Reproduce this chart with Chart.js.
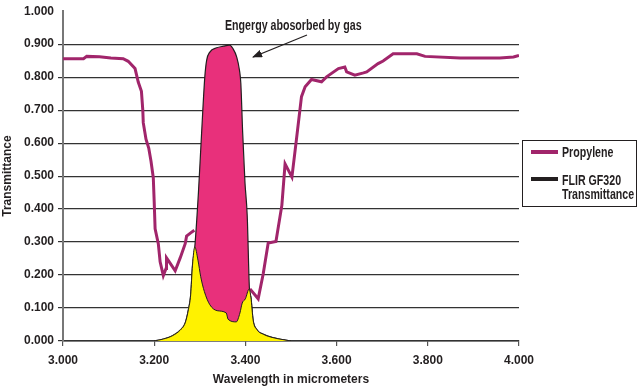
<!DOCTYPE html>
<html><head><meta charset="utf-8">
<script src="https://cdn.jsdelivr.net/npm/chart.js@4.4.1/dist/chart.umd.min.js"></script>
<style>
html,body{margin:0;padding:0;background:#fff;}
#wrap{position:relative;width:640px;height:389px;overflow:hidden;}
#c{position:absolute;left:0;top:0;}
.lbl{position:absolute;font-family:'Liberation Sans',Arial,sans-serif;font-weight:bold;color:#231f20;white-space:nowrap;font-size:14px;line-height:14px;transform:scaleX(0.76);transform-origin:0 50%;}
#legend{position:absolute;left:522px;top:140px;width:115px;height:67px;border:1px solid #231f20;box-sizing:border-box;background:#fff;}
.sw{position:absolute;height:4px;width:27px;}
svg{position:absolute;left:0;top:0;}
</style></head>
<body><div id="wrap">
<canvas id="c" width="640" height="389"></canvas>
<svg width="640" height="389"><defs><marker id="ah" markerWidth="10" markerHeight="8" refX="9" refY="4" orient="auto" markerUnits="userSpaceOnUse"><path d="M0,0 L10,4 L0,8 z" fill="#231f20"/></marker></defs>
<line x1="307" y1="35" x2="253" y2="57" stroke="#231f20" stroke-width="1.2" marker-end="url(#ah)"/></svg>
<div class="lbl" style="left:225px;top:18px;">Engergy abosorbed by gas</div>
<div id="legend"></div>
<div class="sw" style="left:531px;top:150px;background:#a1256b;"></div>
<div class="lbl" style="left:562px;top:145px;">Propylene</div>
<div class="sw" style="left:531px;top:177px;background:#231f20;"></div>
<div class="lbl" style="left:562px;top:173px;">FLIR GF320</div>
<div class="lbl" style="left:562px;top:187px;">Transmittance</div>
</div>
<script>
// Tick labels
const xTicks = [3.0, 3.2, 3.4, 3.6, 3.8, 4.0];
const yTicks = [0.0, 0.1, 0.2, 0.3, 0.4, 0.5, 0.6, 0.7, 0.8, 0.9, 1.0];

// Propylene transmittance (null = hidden behind filter band)
const propyleneX = [3.000,3.045,3.052,3.080,3.105,3.132,3.143,3.158,3.165,3.172,3.175,3.176,3.182,3.188,3.193,3.198,3.200,3.202,3.209,3.213,3.220,3.226,3.227,3.233,3.246,3.257,3.268,3.271,3.280,3.288,3.350,3.410,3.428,3.439,3.450,3.467,3.480,3.487,3.502,3.512,3.523,3.531,3.545,3.567,3.578,3.604,3.618,3.622,3.640,3.659,3.666,3.691,3.702,3.724,3.776,3.794,3.871,3.958,3.988,4.000];
const propyleneY = [0.856,0.856,0.863,0.862,0.858,0.856,0.848,0.826,0.785,0.757,0.700,0.662,0.612,0.585,0.545,0.495,0.422,0.340,0.295,0.240,0.198,0.220,0.252,0.240,0.213,0.252,0.295,0.318,0.328,0.336,null,0.158,0.128,0.203,0.297,0.302,0.412,0.537,0.497,0.612,0.741,0.771,0.793,0.786,0.801,0.826,0.831,0.816,0.806,0.813,0.816,0.841,0.849,0.871,0.871,0.863,0.858,0.858,0.861,0.866];

// FLIR GF320 filter transmittance
const filterX = [3.200,3.220,3.240,3.257,3.268,3.275,3.280,3.284,3.289,3.297,3.304,3.311,3.315,3.322,3.337,3.352,3.365,3.373,3.381,3.387,3.390,3.394,3.399,3.404,3.409,3.412,3.417,3.425,3.440,3.461,3.483,3.500];
const filterY = [0.000,0.006,0.016,0.033,0.055,0.095,0.140,0.230,0.285,0.450,0.632,0.801,0.851,0.876,0.889,0.894,0.897,0.886,0.861,0.821,0.781,0.632,0.482,0.380,0.155,0.133,0.063,0.035,0.020,0.010,0.004,0.000];

// Energy passing through the gas within the filter band
const passX = [3.200,3.220,3.240,3.257,3.268,3.275,3.280,3.284,3.289,3.296,3.302,3.310,3.322,3.338,3.358,3.362,3.380,3.388,3.393,3.400,3.408,3.412,3.417,3.425,3.440,3.461,3.483,3.500];
const passY = [0.000,0.006,0.016,0.033,0.055,0.095,0.140,0.230,0.285,0.245,0.195,0.150,0.110,0.092,0.085,0.066,0.058,0.085,0.115,0.128,0.157,0.133,0.063,0.035,0.020,0.010,0.004,0.000];

const pts = (xs, ys) => xs.map((x, i) => ({x: x, y: ys[i]}));
const FONT = {family: "'Liberation Sans',Arial,sans-serif", size: 12, weight: 'bold'};
const INK = '#231f20';

new Chart(document.getElementById('c'), {
  type: 'line',
  data: {
    datasets: [
      {label: 'Transmitted', data: pts(passX, passY), order: 1, fill: 'origin',
       backgroundColor: '#fff200', borderColor: INK, borderWidth: 1, pointRadius: 0,
       cubicInterpolationMode: 'monotone'},
      {label: 'FLIR GF320 Transmittance', data: pts(filterX, filterY), order: 2, fill: 'origin',
       backgroundColor: '#e8307b', borderColor: INK, borderWidth: 1.2, pointRadius: 0,
       cubicInterpolationMode: 'monotone'},
      {label: 'Propylene', data: pts(propyleneX, propyleneY), order: 3, fill: false,
       borderColor: '#a1256b', borderWidth: 3, pointRadius: 0, spanGaps: false, tension: 0}
    ]
  },
  options: {
    responsive: false, animation: false, devicePixelRatio: 1,
    layout: {padding: {left: 0, right: 121, top: 7, bottom: 0}},
    plugins: {legend: {display: false}, tooltip: {enabled: false}},
    scales: {
      x: {
        type: 'linear', min: 3, max: 4,
        afterFit: s => { s.height = 48; },
        afterBuildTicks: s => { s.ticks = xTicks.map(v => ({value: v})); },
        ticks: {callback: v => Number(v).toFixed(3), font: FONT, color: INK, padding: 7, maxRotation: 0, autoSkip: false},
        grid: {drawOnChartArea: false, drawTicks: true, tickLength: 5, color: '#555', lineWidth: 1.2},
        border: {color: '#333', width: 1.5},
        title: {display: true, text: 'Wavelength in micrometers', font: FONT, color: INK, padding: {top: 0, bottom: 2}}
      },
      y: {
        min: 0, max: 1,
        afterFit: s => { s.width = 63; },
        afterBuildTicks: s => { s.ticks = yTicks.map(v => ({value: v})); },
        ticks: {callback: v => Number(v).toFixed(3), font: FONT, color: INK, padding: 4, autoSkip: false},
        grid: {color: ctx => (ctx.tick && ctx.tick.value >= 1) ? 'rgba(0,0,0,0)' : '#333', lineWidth: 1.2, tickLength: 5},
        border: {color: '#777', width: 2},
        title: {display: true, text: 'Transmittance', font: FONT, color: INK, padding: {top: 0, bottom: 0}}
      }
    }
  }
});
</script>
</body></html>
